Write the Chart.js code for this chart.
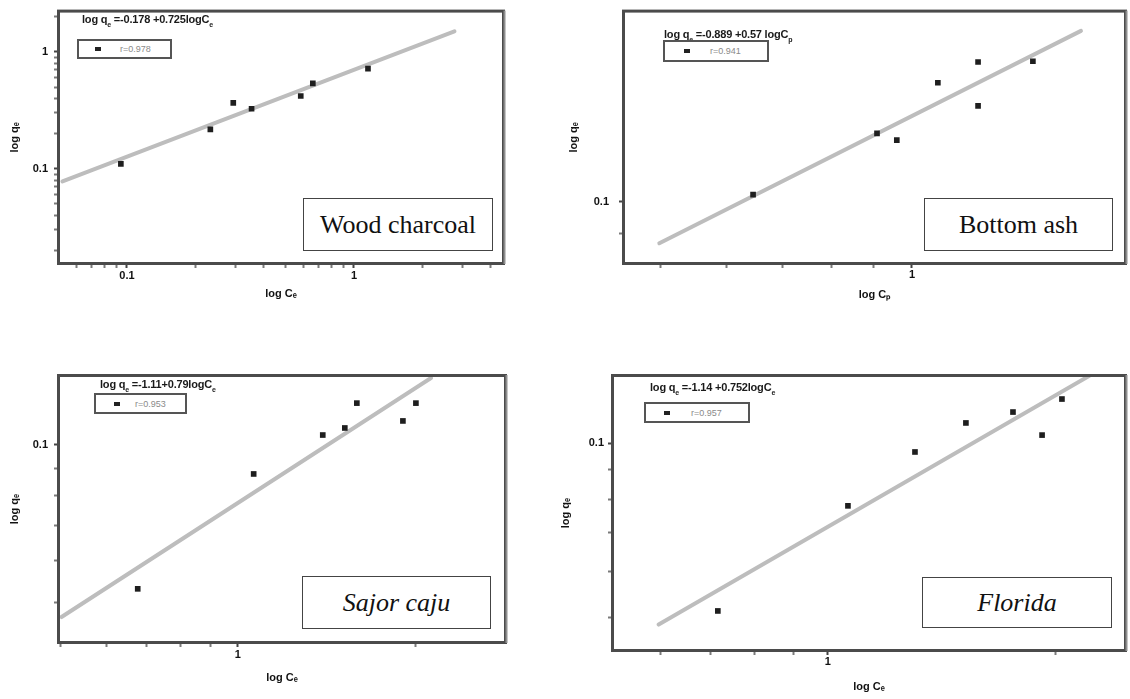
<!DOCTYPE html>
<html><head><meta charset="utf-8">
<script src="https://cdn.jsdelivr.net/npm/chart.js@4.4.1/dist/chart.umd.min.js"></script>
<style>
html,body{margin:0;padding:0;background:#fff;}
#wrap{position:relative;width:1130px;height:699px;overflow:hidden;background:#fff;}
canvas{position:absolute;z-index:1;}
.eq{position:absolute;font:bold 11px "Liberation Sans",Arial,sans-serif;color:#1a1a1a;white-space:nowrap;line-height:12px;z-index:2;letter-spacing:-0.2px}
.eq sub{font-size:7px;vertical-align:-4px;line-height:0}
.leg{position:absolute;box-sizing:border-box;border:2px solid #555;background:#fff;z-index:2}
.leg .mk{position:absolute;width:6px;height:4px;background:#222;top:6px}
.leg .rt{position:absolute;top:2px;font:9px "Liberation Sans",Arial,sans-serif;color:#8a8a8a;line-height:12px;white-space:nowrap}
.lab{position:absolute;box-sizing:border-box;border:1px solid #444;background:#fff;font:26px "Liberation Serif","Times New Roman",serif;color:#111;display:flex;align-items:center;justify-content:center;z-index:2;white-space:nowrap}
.lab.it{font-style:italic}
</style></head><body><div id="wrap">
<canvas id="c1"></canvas><canvas id="c2"></canvas><canvas id="c3"></canvas><canvas id="c4"></canvas>
</div>
<script>
// ---------- data ----------
const woodX = [0.094, 0.233, 0.294, 0.354, 0.583, 0.659, 1.153];
const woodY = [0.110, 0.217, 0.366, 0.326, 0.419, 0.538, 0.720];
const woodFitX = [0.052, 2.77];
const woodFitY = [0.0778, 1.50];

const ashX = [0.645, 0.908, 0.959, 1.074, 1.20, 1.20, 1.396];
const ashY = [0.1023, 0.1250, 0.1223, 0.1476, 0.158, 0.1368, 0.1584];
const ashFitX = [0.498, 1.594];
const ashFitY = [0.0872, 0.175];

const sajorX = [0.677, 1.064, 1.393, 1.518, 1.591, 1.904, 2.003];
const sajorY = [0.0530, 0.0880, 0.1045, 0.1078, 0.1203, 0.1112, 0.1203];
const sajorFitX = [0.503, 2.124];
const sajorFitY = [0.0468, 0.1344];

const floridaX = [0.715, 1.063, 1.304, 1.523, 1.758, 1.921, 2.041];
const floridaY = [0.0513, 0.0779, 0.0965, 0.1083, 0.1131, 0.1032, 0.1191];
const floridaFitX = [0.597, 2.216];
const floridaFitY = [0.0486, 0.1305];

// tick values (log minor/major) and labelled ticks
const woodXTicks = [0.05,0.06,0.07,0.08,0.09,0.1,0.2,0.3,0.4,0.5,0.6,0.7,0.8,0.9,1,2,3,4];
const woodYTicks = [0.02,0.03,0.04,0.05,0.06,0.07,0.08,0.09,0.1,0.2,0.3,0.4,0.5,0.6,0.7,0.8,0.9,1,2];
const ashXTicks = [0.5,0.6,0.7,0.8,0.9,1];
const ashYTicks = [0.09,0.1];
const sajorXTicks = [0.5,0.6,0.7,0.8,0.9,1,2];
const sajorYTicks = [0.05,0.06,0.07,0.08,0.09,0.1];
const floridaXTicks = [0.6,0.7,0.8,0.9,1,2];
const floridaYTicks = [0.05,0.06,0.07,0.08,0.09,0.1];
const majorTicks = [0.1, 1];
const majorTickLabels = ['0.1', '1'];

// texts
const panelNames = ['Wood charcoal', 'Bottom ash', 'Sajor caju', 'Florida'];
const equations = [
  'log q<sub>e</sub> =-0.178 +0.725logC<sub>e</sub>',
  'log q<sub>e</sub> =-0.889 +0.57 logC<sub>p</sub>',
  'log q<sub>e</sub> =-1.11+0.79logC<sub>e</sub>',
  'log q<sub>e</sub> =-1.14 +0.752logC<sub>e</sub>'
];
const rValues = ['r=0.978', 'r=0.941', 'r=0.953', 'r=0.957'];
const xTitles = ['log C\u2091', 'log C\u209A', 'log C\u2091', 'log C\u2091'];
const yTitles = ['log q\u2091', 'log q\u2091', 'log q\u2091', 'log q\u2091'];

// ---------- layout ----------
const panels = [
  {id:'c1', canvas:[0,0,555,320], area:[60,8,502,262], padL:4, yPad:6, xPad:1, xAxisH:43,
   xRange:[0.0507,4.49], yRange:[0.0159,2.17], xTicks:woodXTicks, yTicks:woodYTicks,
   xs:woodX, ys:woodY, fx:woodFitX, fy:woodFitY,
   eq:[82,13], leg:[77,39,95,20,16,41], lab:[303,198,190,53], italic:false},
  {id:'c2', canvas:[550,-4,580,324], area:[625,6,1124,262], padL:13, yPad:10, xPad:0, xAxisH:44,
   xRange:[0.453,1.795], yRange:[0.082,0.1858], xTicks:ashXTicks, yTicks:ashYTicks,
   xs:ashX, ys:ashY, fx:ashFitX, fy:ashFitY,
   eq:[664,28], leg:[663,40,106,22,19,45], lab:[924,198,189,53], italic:false},
  {id:'c3', canvas:[0,360,555,339], area:[60,377,504,641], padL:4, yPad:6, xPad:1, xAxisH:48,
   xRange:[0.5,2.824], yRange:[0.0421,0.135], xTicks:sajorXTicks, yTicks:sajorYTicks,
   xs:sajorX, ys:sajorY, fx:sajorFitX, fy:sajorFitY,
   eq:[100,378], leg:[94,393,93,21,18,39], lab:[302,576,189,53], italic:true},
  {id:'c4', canvas:[550,360,580,339], area:[614,377,1124,649], padL:5, yPad:4, xPad:0, xAxisH:49,
   xRange:[0.521,2.466], yRange:[0.0441,0.130], xTicks:floridaXTicks, yTicks:floridaYTicks,
   xs:floridaX, ys:floridaY, fx:floridaFitX, fy:floridaFitY,
   eq:[650,381], leg:[644,402,106,21,18,45], lab:[922,577,190,51], italic:true}
];

const FONT = '"Liberation Sans", Arial, sans-serif';
function isMajor(v){ return majorTicks.some(m => Math.abs(m - v) < 1e-9); }
function tickLabel(v){
  const i = majorTicks.findIndex(m => Math.abs(m - v) < 1e-9);
  return i >= 0 ? majorTickLabels[i] : '';
}

const framePlugin = {
  id: 'frame',
  afterDraw(chart){
    const {ctx, chartArea:a} = chart;
    ctx.save();
    ctx.strokeStyle = '#4b4b4b';
    ctx.lineWidth = 3;
    ctx.strokeRect(a.left - 1.5, a.top - 1.5, a.right - a.left + 3, a.bottom - a.top + 3);
    ctx.fillStyle = '#8f8f8f';
    ctx.fillRect(a.right + 1.5, a.top - 2, 2, a.bottom - a.top + 4);
    ctx.restore();
  }
};

const wrap = document.getElementById('wrap');

panels.forEach((p, k) => {
  const cv = document.getElementById(p.id);
  const [cl, ct, cw, ch] = p.canvas;
  cv.width = cw; cv.height = ch;
  cv.style.left = cl + 'px'; cv.style.top = ct + 'px';
  const [L, T, R, B] = p.area;
  const padding = {left: p.padL, top: T - ct, right: cl + cw - R, bottom: ct + ch - B - p.xAxisH};
  const yW = L - cl - p.padL;
  const gridOpts = {
    drawOnChartArea: false, drawTicks: true, tickLength: 6,
    tickWidth: c => (c.tick && isMajor(c.tick.value)) ? 2 : 2,
    tickColor: c => (c.tick && isMajor(c.tick.value)) ? '#444' : '#7a7a7a'
  };
  const tickFont = {family: FONT, size: 11, weight: 'bold'};
  const titleFont = {family: FONT, size: 11, weight: 'bold'};
  new Chart(cv, {
    type: 'scatter',
    data: {datasets: [
      {type: 'line', data: p.fx.map((x, i) => ({x, y: p.fy[i]})), showLine: true,
       borderColor: '#bdbdbd', borderWidth: 4, pointRadius: 0, fill: false, order: 2,
       borderCapStyle: 'round'},
      {data: p.xs.map((x, i) => ({x, y: p.ys[i]})), pointStyle: 'rect', pointRadius: 4,
       backgroundColor: '#1e1e1e', borderColor: '#1e1e1e', borderWidth: 0, order: 1}
    ]},
    options: {
      responsive: false, animation: false, devicePixelRatio: 1,
      layout: {padding},
      plugins: {legend: {display: false}, tooltip: {enabled: false}},
      events: [],
      scales: {
        x: {
          type: 'logarithmic', min: p.xRange[0], max: p.xRange[1],
          afterBuildTicks: s => { s.ticks = p.xTicks.filter(v => v >= p.xRange[0] - 1e-9 && v <= p.xRange[1]).map(v => ({value: v})); },
          afterFit: s => { s.height = p.xAxisH; },
          grid: gridOpts, border: {display: false},
          ticks: {autoSkip: false, maxRotation: 0, minRotation: 0, padding: p.xPad, font: tickFont, color: '#111',
                  callback: v => tickLabel(v)},
          title: {display: true, text: xTitles[k], font: titleFont, color: '#111', padding: {top: 2, bottom: 4}}
        },
        y: {
          type: 'logarithmic', min: p.yRange[0], max: p.yRange[1],
          afterBuildTicks: s => { s.ticks = p.yTicks.filter(v => v >= p.yRange[0] && v <= p.yRange[1]).map(v => ({value: v})); },
          afterFit: s => { s.width = yW; },
          grid: gridOpts, border: {display: false},
          ticks: {autoSkip: false, padding: p.yPad, font: tickFont, color: '#111',
                  callback: v => tickLabel(v)},
          title: {display: true, text: yTitles[k], font: titleFont, color: '#111', padding: {top: 4, bottom: 2}}
        }
      }
    },
    plugins: [framePlugin]
  });

  // annotations
  const eq = document.createElement('div');
  eq.className = 'eq';
  eq.style.left = p.eq[0] + 'px'; eq.style.top = p.eq[1] + 'px';
  eq.innerHTML = equations[k];
  wrap.appendChild(eq);

  const leg = document.createElement('div');
  leg.className = 'leg';
  leg.style.left = p.leg[0] + 'px'; leg.style.top = p.leg[1] + 'px';
  leg.style.width = p.leg[2] + 'px'; leg.style.height = p.leg[3] + 'px';
  const mk = document.createElement('span'); mk.className = 'mk'; mk.style.left = p.leg[4] + 'px';
  mk.style.top = Math.round((p.leg[3] - 4) / 2 - 2) + 'px';
  const rt = document.createElement('span'); rt.className = 'rt'; rt.style.left = p.leg[5] + 'px';
  rt.style.top = Math.round((p.leg[3] - 4 - 12) / 2) + 'px';
  rt.textContent = rValues[k];
  leg.appendChild(mk); leg.appendChild(rt);
  wrap.appendChild(leg);

  const lab = document.createElement('div');
  lab.className = 'lab' + (p.italic ? ' it' : '');
  lab.style.left = p.lab[0] + 'px'; lab.style.top = p.lab[1] + 'px';
  lab.style.width = p.lab[2] + 'px'; lab.style.height = p.lab[3] + 'px';
  lab.textContent = panelNames[k];
  wrap.appendChild(lab);
});
</script>
</body></html>
